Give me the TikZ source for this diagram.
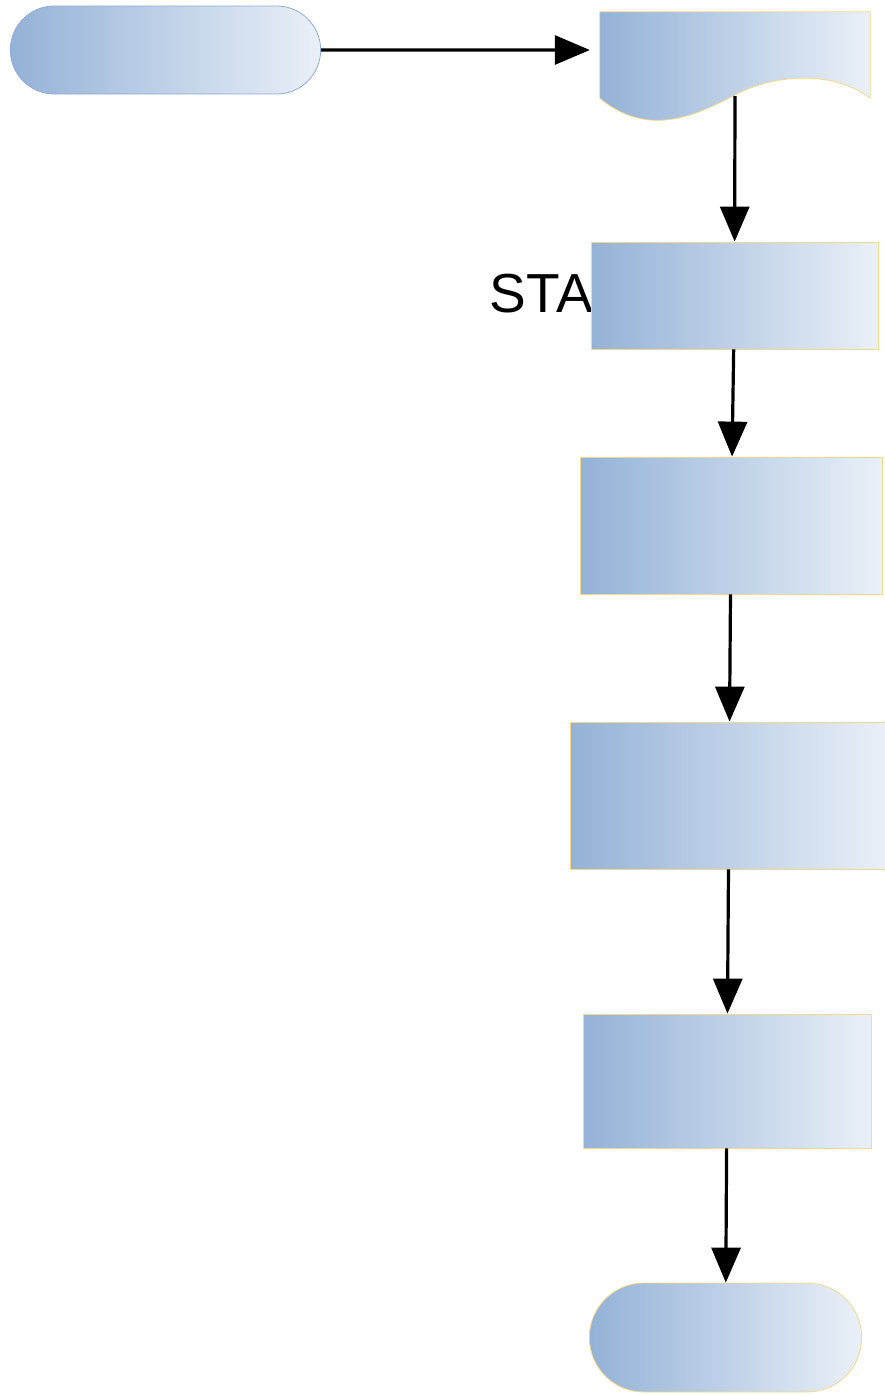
\documentclass[tikz,border=0pt]{standalone}
\usepackage{fontspec}
\setmainfont{Liberation Sans}
\usetikzlibrary{shapes.misc,arrows.meta}
\definecolor{flowblue}{HTML}{94B2D7}
\definecolor{flowpale}{HTML}{EAF0F8}
\definecolor{flowgold}{HTML}{F6D98A}
\definecolor{flowline}{HTML}{8FACD5}

\begin{document}
\begin{tikzpicture}
[x=1pt, y=-1pt,
box/.style={shape=rectangle, draw=flowgold, line width=0.8pt, left color=flowblue, right color=flowpale},
term/.style={box, shape=rounded rectangle},
flow/.style={line width=3.2pt, -{Triangle[length=35pt,width=29pt]}}]
\useasboundingbox (0,0) rectangle (884,1395);

\node[term, draw=flowline, minimum width=317pt, minimum height=88pt] (start) at (165.5,50) {};
\node[minimum width=270pt, minimum height=86pt, inner sep=0pt] (doc) at (735,55) {};
\path[draw=flowgold, line width=0.8pt, left color=flowblue, right color=flowpale]
  (doc.north west) -- (doc.north east) -- (doc.south east)
  .. controls (830,68) and (770,76) .. (735,95)
  .. controls (700,113) and (650,140) .. (doc.south west) -- cycle;
\coordinate (docout) at (735,96);

\node[anchor=east, inner sep=0pt, font=\fontsize{55}{62}\selectfont] (sta) at (593,294) {STA};
\node[box, minimum width=287pt, minimum height=107pt] (check) at (734.5,295.5) {};
\node[box, minimum width=302pt, minimum height=137pt] (read) at (731,525.5) {};
\node[box, minimum width=318pt, minimum height=147pt] (calc) at (729,795.5) {};
\node[box, minimum width=288pt, minimum height=134pt] (write) at (727,1081) {};
\node[term, minimum width=279pt, minimum height=109pt] (stop) at (725.5,1337.5) {};

\draw[flow, shorten >=10pt] (start) -- (start -| doc.west);
\draw[flow] (docout) -- (check);
\draw[flow] (check) -- (read);
\draw[flow] (read) -- (calc);
\draw[flow] (calc) -- (write);
\draw[flow] (write) -- (stop);
\end{tikzpicture}
\end{document}
